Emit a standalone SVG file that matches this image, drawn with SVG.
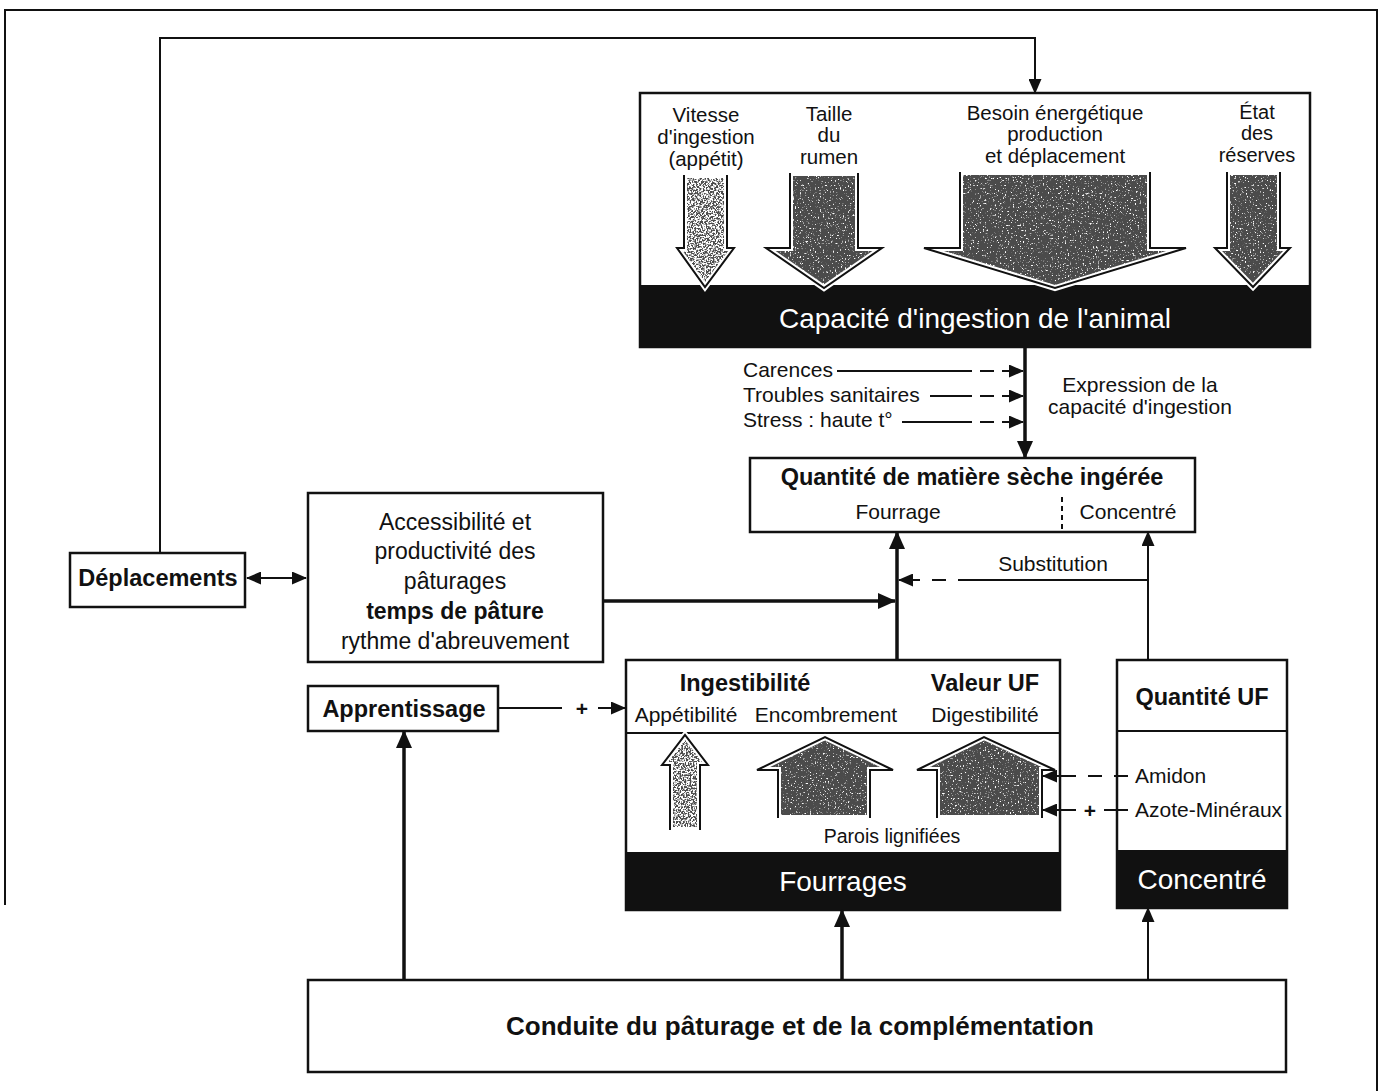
<svg xmlns="http://www.w3.org/2000/svg" width="1382" height="1091" viewBox="0 0 1382 1091">
<style>
text{font-family:"Liberation Sans",Arial,sans-serif;fill:#111;}
.t{font-size:23px;}
.s{font-size:21px;}
.h{font-size:20.5px;}
.b{font-weight:bold;font-size:23.5px;}
.c{text-anchor:middle;}
.w{fill:#fff;font-size:28px;}
.box{fill:#fff;stroke:#111;stroke-width:2.5;}
.band{fill:#111;}
.ln{fill:none;stroke:#111;stroke-width:2;}
.thk{fill:none;stroke:#111;stroke-width:3.5;}
.ol{fill:none;stroke:#111;stroke-width:2;stroke-linejoin:miter;}
.olw{fill:none;stroke:#fff;stroke-width:6;}
</style>
<defs>
<marker id="ah" viewBox="0 0 18 16" refX="17" refY="8" markerWidth="18" markerHeight="16" orient="auto-start-reverse" markerUnits="userSpaceOnUse"><path d="M0,0 L18,8 L0,16 z" fill="#111"/></marker>
<marker id="as" viewBox="0 0 15 13" refX="14" refY="6.5" markerWidth="15" markerHeight="13" orient="auto-start-reverse" markerUnits="userSpaceOnUse"><path d="M0,0 L15,6.5 L0,13 z" fill="#111"/></marker>
<filter id="speckD" filterUnits="userSpaceOnUse" x="0" y="0" width="1382" height="1091">
<feTurbulence type="fractalNoise" baseFrequency="0.6" numOctaves="2" seed="4" result="t"/>
<feColorMatrix in="t" type="matrix" values="0 0 0 0 0.07  0 0 0 0 0.07  0 0 0 0 0.07  -7 0 0 0 5.3" result="d"/>
<feComposite in="d" in2="SourceAlpha" operator="in"/>
</filter>
<filter id="speckL" filterUnits="userSpaceOnUse" x="0" y="0" width="1382" height="1091">
<feTurbulence type="fractalNoise" baseFrequency="0.6" numOctaves="2" seed="9" result="t"/>
<feColorMatrix in="t" type="matrix" values="0 0 0 0 0.07  0 0 0 0 0.07  0 0 0 0 0.07  -7 0 0 0 4.0" result="d"/>
<feComposite in="d" in2="SourceAlpha" operator="in"/>
</filter>
</defs>
<rect width="1382" height="1091" fill="#fff"/>
<path d="M5,905 V10 H1377 V1091" class="ln"/>

<g id="capacite">
<rect x="640" y="93" width="670" height="254" class="box"/>
<rect x="640" y="285" width="670" height="62" class="band"/>
<text x="975" y="328" class="w c">Capacité d'ingestion de l'animal</text>
<text class="h c"><tspan x="706" y="122">Vitesse</tspan><tspan x="706" y="144">d'ingestion</tspan><tspan x="706" y="166">(appétit)</tspan></text>
<text class="h c"><tspan x="829" y="121">Taille</tspan><tspan x="829" y="142">du</tspan><tspan x="829" y="164">rumen</tspan></text>
<text class="h c"><tspan x="1055" y="120">Besoin énergétique</tspan><tspan x="1055" y="141">production</tspan><tspan x="1055" y="163">et déplacement</tspan></text>
<text class="c" font-size="20"><tspan x="1257" y="119">État</tspan><tspan x="1257" y="140">des</tspan><tspan x="1257" y="162">réserves</tspan></text>
<g id="fl-vitesse">
<polygon points="684,175 727,175 727,248 734,248 705,287 677,248 684,248" filter="url(#speckL)" fill="#000"/>
<polygon points="684,175 727,175 727,248 734,248 705,287 677,248 684,248" class="olw"/>
<polyline points="684,175 684,248 677,248 705,287 734,248 727,248 727,175" class="ol"/>
</g>
<g id="fl-taille">
<polygon points="790,173 858,173 858,248 882,248 824,288 766,248 790,248" filter="url(#speckD)" fill="#000"/>
<polygon points="790,173 858,173 858,248 882,248 824,288 766,248 790,248" class="olw"/>
<polyline points="790,173 790,248 766,248 824,288 882,248 858,248 858,173" class="ol"/>
</g>
<g id="fl-besoin">
<polygon points="960,172 1150,172 1150,248 1186,248 1055,288 924,248 960,248" filter="url(#speckD)" fill="#000"/>
<polygon points="960,172 1150,172 1150,248 1186,248 1055,288 924,248 960,248" class="olw"/>
<polyline points="960,172 960,248 924,248 1055,288 1186,248 1150,248 1150,172" class="ol"/>
</g>
<g id="fl-etat">
<polygon points="1227,172 1280,172 1280,248 1290,248 1253,287 1215,248 1227,248" filter="url(#speckD)" fill="#000"/>
<polygon points="1227,172 1280,172 1280,248 1290,248 1253,287 1215,248 1227,248" class="olw"/>
<polyline points="1227,172 1227,248 1215,248 1253,287 1290,248 1280,248 1280,172" class="ol"/>
</g>
</g>

<g id="facteurs">
<text x="743" y="377" class="s">Carences</text>
<text x="743" y="402" class="s">Troubles sanitaires</text>
<text x="743" y="427" class="s">Stress : haute t°</text>
<text class="s c"><tspan x="1140" y="392">Expression de la</tspan><tspan x="1140" y="414">capacité d'ingestion</tspan></text>
</g>

<g id="quantite">
<rect x="750" y="458" width="445" height="74" class="box"/>
<text x="972" y="485" class="b c">Quantité de matière sèche ingérée</text>
<text x="898" y="519" class="s c">Fourrage</text>
<text x="1128" y="519" class="s c">Concentré</text>
<line x1="1062" y1="497" x2="1062" y2="532" stroke="#111" stroke-width="2" stroke-dasharray="5,4"/>
</g>

<g id="deplacements">
<rect x="70" y="553" width="175" height="54" class="box"/>
<text x="158" y="586" class="b c">Déplacements</text>
</g>

<g id="accessibilite">
<rect x="308" y="493" width="295" height="169" class="box"/>
<text class="t c"><tspan x="455" y="530">Accessibilité et</tspan><tspan x="455" y="559">productivité des</tspan><tspan x="455" y="589">pâturages</tspan><tspan x="455" y="619" font-weight="bold">temps de pâture</tspan><tspan x="455" y="649">rythme d'abreuvement</tspan></text>
</g>

<g id="apprentissage">
<rect x="308" y="686" width="190" height="45" class="box"/>
<text x="404" y="717" class="b c">Apprentissage</text>
</g>

<g id="fourrages">
<rect x="626" y="660" width="434" height="250" class="box"/>
<line x1="626" y1="733" x2="1060" y2="733" stroke="#111" stroke-width="2"/>
<rect x="626" y="852" width="434" height="58" class="band"/>
<text x="843" y="891" class="w c">Fourrages</text>
<text x="745" y="691" class="b c">Ingestibilité</text>
<text x="985" y="691" class="b c">Valeur UF</text>
<text x="686" y="722" class="s c">Appétibilité</text>
<text x="826" y="722" class="s c">Encombrement</text>
<text x="985" y="722" class="s c">Digestibilité</text>
<text x="892" y="843" class="c" font-size="19.5">Parois lignifiées</text>
<g id="fl-appet">
<polygon points="670,830 670,765 662,765 685,735 708,765 700,765 700,830" filter="url(#speckL)" fill="#000"/>
<polygon points="670,830 670,765 662,765 685,735 708,765 700,765 700,830" class="olw"/>
<polyline points="670,830 670,765 662,765 685,735 708,765 700,765 700,830" class="ol"/>
</g>
<g id="fl-encomb">
<polygon points="778,818 778,770 757,770 825,737 893,770 870,770 870,818" filter="url(#speckD)" fill="#000"/>
<polygon points="778,818 778,770 757,770 825,737 893,770 870,770 870,818" class="olw"/>
<polyline points="778,818 778,770 757,770 825,737 893,770 870,770 870,818" class="ol"/>
</g>
<g id="fl-digest">
<polygon points="937,818 937,770 917,770 984,737 1055,770 1042,770 1042,818" filter="url(#speckD)" fill="#000"/>
<polygon points="937,818 937,770 917,770 984,737 1055,770 1042,770 1042,818" class="olw"/>
<polyline points="937,818 937,770 917,770 984,737 1055,770 1042,770 1042,818" class="ol"/>
</g>
</g>

<g id="concentre">
<rect x="1117" y="660" width="170" height="248" class="box"/>
<line x1="1117" y1="731" x2="1287" y2="731" stroke="#111" stroke-width="2"/>
<rect x="1117" y="850" width="170" height="58" class="band"/>
<text x="1202" y="889" class="w c">Concentré</text>
<text x="1202" y="705" class="b c">Quantité UF</text>
<text x="1135" y="783" class="s">Amidon</text>
<text x="1135" y="817" class="s">Azote-Minéraux</text>
</g>

<g id="conduite">
<rect x="308" y="980" width="978" height="92" class="box"/>
<text x="800" y="1035" class="c" font-weight="bold" font-size="26">Conduite du pâturage et de la complémentation</text>
</g>

<g id="connecteurs">
<path d="M160,553 V38 H1035 V93" class="ln" marker-end="url(#as)"/>
<path d="M1025,347 V458" class="thk" marker-end="url(#ah)"/>
<path d="M837,371 H972 M980,371 H994 M1002,371 H1023" class="ln" marker-end="url(#as)"/>
<path d="M930,396 H972 M980,396 H994 M1002,396 H1023" class="ln" marker-end="url(#as)"/>
<path d="M902,422 H972 M980,422 H994 M1002,422 H1023" class="ln" marker-end="url(#as)"/>
<path d="M897,660 V532" class="thk" marker-end="url(#ah)"/>
<path d="M1148,660 V532" class="ln" marker-end="url(#as)"/>
<text x="1053" y="571" class="s c">Substitution</text>
<path d="M1148,580 H958 M946,580 H932 M920,580 H899" class="ln" marker-end="url(#as)"/>
<path d="M603,601 H895" class="thk" marker-end="url(#ah)"/>
<path d="M247,578 H306" class="ln" marker-start="url(#as)" marker-end="url(#as)"/>
<path d="M498,708 H562" class="ln"/>
<text x="582" y="716" class="s c" font-weight="bold">+</text>
<path d="M598,708 H625" class="ln" marker-end="url(#as)"/>
<path d="M1128,776 H1114 M1102,776 H1088 M1076,776 H1043" class="ln" marker-end="url(#as)"/>
<path d="M1128,810 H1104" class="ln"/>
<text x="1090" y="818" class="s c" font-weight="bold">+</text>
<path d="M1076,810 H1043" class="ln" marker-end="url(#as)"/>
<path d="M404,980 V731" class="thk" marker-end="url(#ah)"/>
<path d="M842,980 V910" class="thk" marker-end="url(#ah)"/>
<path d="M1148,980 V908" class="ln" marker-end="url(#as)"/>
</g>
</svg>
